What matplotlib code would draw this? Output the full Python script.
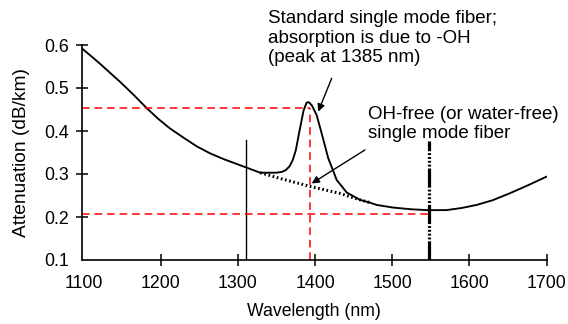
import matplotlib
matplotlib.use("Agg")
import matplotlib.pyplot as plt

plt.rcParams['font.family'] = ['Liberation Sans', 'DejaVu Sans']

# Main (common) attenuation curve, left part
main_left_wl = [1098, 1110, 1121, 1134, 1147, 1165, 1182, 1197, 1212, 1230, 1247, 1264, 1281, 1296, 1311, 1329]
main_left_att = [0.592, 0.574, 0.557, 0.536, 0.515, 0.484, 0.453, 0.428, 0.406, 0.384, 0.364, 0.348, 0.335, 0.325, 0.315, 0.303]

# Standard SMF branch with -OH peak
std_wl = [1329, 1340, 1350, 1357, 1362, 1367, 1371, 1375, 1380, 1385, 1389, 1392, 1396, 1402, 1408, 1417, 1428, 1441, 1458, 1470]
std_att = [0.303, 0.303, 0.303, 0.305, 0.309, 0.318, 0.332, 0.355, 0.402, 0.447, 0.466, 0.467, 0.459, 0.437, 0.398, 0.337, 0.286, 0.257, 0.240, 0.234]

# OH-free branch (dotted)
ohfree_wl = [1329, 1354, 1396, 1432, 1458, 1470]
ohfree_att = [0.303, 0.290, 0.270, 0.255, 0.240, 0.234]

# Main curve right part
main_right_wl = [1470, 1480, 1501, 1524, 1545, 1570, 1590, 1609, 1630, 1652, 1676, 1700]
main_right_att = [0.234, 0.228, 0.222, 0.218, 0.216, 0.216, 0.221, 0.228, 0.239, 0.255, 0.274, 0.294]

x_ticks = [1100, 1200, 1300, 1400, 1500, 1600, 1700]
y_ticks = [0.1, 0.2, 0.3, 0.4, 0.5, 0.6]

peak_wl = 1394
peak_att = 0.453
low_att = 0.207
window1 = 1311
window1_top = 0.379
window2 = 1547
window2_top = 0.377

W, H = 568, 324
fig = plt.figure(figsize=(W / 100, H / 100), dpi=100)
ax = fig.add_axes([81.7 / W, 1 - 260 / H, (546.7 - 81.7) / W, (260 - 45) / H])
ax.set_xlim(1097.7, 1700)
ax.set_ylim(0.1, 0.6)

lw = 1.35
kw = dict(color='black', lw=lw, solid_joinstyle='round', solid_capstyle='round')
ax.plot(main_left_wl, main_left_att, **kw)
ax.plot(std_wl, std_att, **kw)
ax.plot(ohfree_wl, ohfree_att, color='black', lw=2.2, linestyle=(0, (0.55, 0.85)))
ax.plot(main_right_wl, main_right_att, **kw)

# vertical window lines
ax.plot([window1, window1], [0.1, window1_top], color='black', lw=1.0)
ax.plot([window2, window2], [0.1, window2_top], color='black', lw=2.3,
        linestyle=(0, (6, 0.6, 0.6, 0.6, 0.6, 0.6, 0.6, 0.6, 0.6, 0.6)))

# red dashed reference lines
red_ls = (0, (5, 3.2))
ax.plot([1097.7, peak_wl], [peak_att, peak_att], color='red', lw=1.1, linestyle=red_ls)
ax.plot([peak_wl, peak_wl], [0.1, peak_att], color='red', lw=1.1, linestyle=red_ls)
ax.plot([1097.7, window2], [low_att, low_att], color='red', lw=1.1, linestyle=red_ls)

for s in ['top', 'right']:
    ax.spines[s].set_visible(False)
for s in ['left', 'bottom']:
    ax.spines[s].set_linewidth(1.2)

ax.set_xticks(x_ticks)
ax.set_yticks(y_ticks)
ax.set_xticklabels([str(v) for v in x_ticks])
ax.set_yticklabels([f"{v:.1f}" for v in y_ticks])
ax.tick_params(direction='inout', length=8, width=1.1, labelsize=12.8)
ax.tick_params(axis='x', pad=6.5)
ax.tick_params(axis='y', pad=5.5)
# corner ticks are not drawn in the reference
ax.xaxis.get_major_ticks()[0].tick1line.set_visible(False)
ax.yaxis.get_major_ticks()[0].tick1line.set_visible(False)

ax.set_xlabel('Wavelength (nm)', fontsize=12.7, labelpad=8)
ax.set_ylabel('Attenuation (dB/km)', fontsize=13.8, labelpad=10)

ax.text(1339, 0.681, 'Standard single mode fiber;\nabsorption is due to -OH\n(peak at 1385 nm)',
        fontsize=13.5, ha='left', va='top', linespacing=1.2, clip_on=False)
ax.annotate('', xy=(1404, 0.445), xytext=(1421.5, 0.5226),
            arrowprops=dict(arrowstyle='-|>', color='black', lw=1.0,
                            mutation_scale=11, shrinkA=0, shrinkB=0))
ax.text(1469, 0.459, 'OH-free (or water-free)\nsingle mode fiber', fontsize=13.5,
        ha='left', va='top', linespacing=1.2)
ax.annotate('', xy=(1395.6, 0.278), xytext=(1464.6, 0.356),
            arrowprops=dict(arrowstyle='-|>', color='black', lw=1.0,
                            mutation_scale=11, shrinkA=0, shrinkB=0))

fig.savefig('out.png', dpi=100)
